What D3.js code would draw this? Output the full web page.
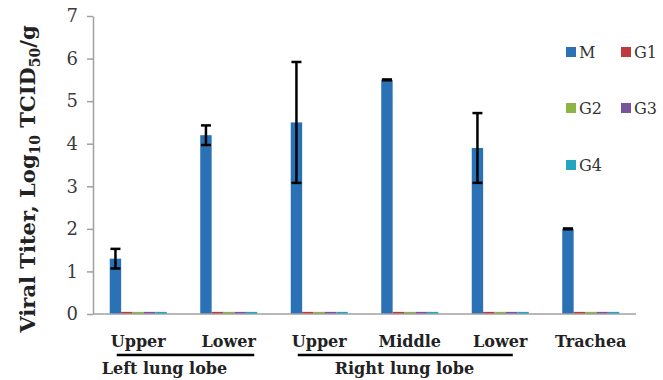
<!DOCTYPE html>
<html>
<head>
<meta charset="utf-8">
<script src="https://cdn.jsdelivr.net/npm/d3@7"></script>
<style>
  body { margin: 0; background: #fff; }
  svg text { font-family: "DejaVu Serif", "Liberation Serif", serif; }
</style>
</head>
<body>
<div id="chart"></div>
<script>
"use strict"
// dados
var categorias = ["Upper", "Lower", "Upper ", "Middle", "Lower ", "Trachea"];
var series = ["M", "G1", "G2", "G3", "G4"];
var valoresM = [1.3, 4.2, 4.5, 5.5, 3.9, 2.0];
var erroM = [0.23, 0.23, 1.42, 0.01, 0.82, 0.01];
var valoresG = [0.05, 0.05, 0.05, 0.05, 0.05, 0.05]; // G1..G4 ficam no limite
var ticksY = [0, 1, 2, 3, 4, 5, 6, 7];
var grupos = [
  {nome: "Left lung lobe", de: 0, ate: 1},
  {nome: "Right lung lobe", de: 2, ate: 4}
];
var cores = ["#2a71b6", "#c0393f", "#8db445", "#7a539e", "#23a4c3"];

var larguraSVG = 663, alturaSVG = 380;
var margin = {top: 16, right: 27, bottom: 66, left: 93};
var larguraVis = larguraSVG - margin.left - margin.right,
    alturaVis = alturaSVG - margin.top - margin.bottom;

var svg = d3.select("#chart").append("svg")
  .attr("width", larguraSVG)
  .attr("height", alturaSVG);
var grafico = svg.append("g")
  .attr("transform", "translate(" + margin.left + "," + margin.top + ")");

var x0 = d3.scaleBand().domain(categorias).range([0, larguraVis]).paddingInner(0.37).paddingOuter(0.185);
var x1 = d3.scaleBand().domain(series).range([0, x0.bandwidth()]);
var y = d3.scaleLinear().domain([0, 7]).range([alturaVis, 0]);

// tabela com todas as barras
var dados = [];
categorias.forEach(function(c, i) {
  series.forEach(function(s) {
    dados.push({cat: c, serie: s, valor: s == "M" ? valoresM[i] : valoresG[i]});
  });
});

grafico.selectAll("rect.barra")
  .data(dados)
  .enter().append("rect")
    .attr("class", "barra")
    .attr("x", d => x0(d.cat) + x1(d.serie))
    .attr("y", d => y(d.valor))
    .attr("width", x1.bandwidth())
    .attr("height", d => alturaVis - y(d.valor))
    .attr("fill", d => cores[series.indexOf(d.serie)]);

// barras de erro
var erros = grafico.selectAll("g.erro")
  .data(categorias.map((c, i) => ({cat: c, v: valoresM[i], e: erroM[i]})))
  .enter().append("g").attr("class", "erro")
  .attr("stroke", "#000").attr("stroke-width", 2.5);
var cx = d => x0(d.cat) + x1("M") + x1.bandwidth() / 2;
erros.append("line")
  .attr("x1", cx).attr("x2", cx)
  .attr("y1", d => y(d.v + d.e)).attr("y2", d => y(d.v - d.e));
erros.append("line")
  .attr("x1", d => cx(d) - 5).attr("x2", d => cx(d) + 5)
  .attr("y1", d => y(d.v + d.e)).attr("y2", d => y(d.v + d.e));
erros.append("line")
  .attr("x1", d => cx(d) - 5).attr("x2", d => cx(d) + 5)
  .attr("y1", d => y(d.v - d.e)).attr("y2", d => y(d.v - d.e));

// eixo y
var eixoY = grafico.append("g")
  .call(d3.axisLeft(y).tickValues(ticksY).tickFormat(d3.format("d")).tickSize(6).tickSizeOuter(0).tickPadding(9));
eixoY.select(".domain").attr("stroke", "#a0a0a0").attr("stroke-width", 1.5);
eixoY.selectAll(".tick line").attr("stroke", "#a0a0a0").attr("stroke-width", 1.5);
eixoY.selectAll(".tick text")
  .attr("font-size", 18).attr("fill", "#3a3a3a")
  .style("font-family", "'DejaVu Serif', serif");

// eixo x (so a linha)
grafico.append("line")
  .attr("x1", 0).attr("x2", larguraVis)
  .attr("y1", alturaVis).attr("y2", alturaVis)
  .attr("stroke", "#a0a0a0").attr("stroke-width", 1.5);

// rotulos das categorias
grafico.selectAll("text.cat")
  .data(categorias)
  .enter().append("text")
    .attr("class", "cat")
    .attr("x", d => x0(d) + x0.bandwidth() / 2)
    .attr("y", alturaVis + 33)
    .attr("text-anchor", "middle")
    .attr("font-size", 16).attr("font-weight", "bold").attr("fill", "#222")
    .text(d => d.trim());

// linhas e nomes dos grupos
grupos.forEach(function(g) {
  var xa = x0(categorias[g.de]) + 7;
  var xb = g.nome.startsWith("Left") ? x0(categorias[g.ate]) + x0.bandwidth() - 3
                                     : x0(categorias[g.ate]) + x0.bandwidth() * 0.72;
  grafico.append("line")
    .attr("x1", xa).attr("x2", xb)
    .attr("y1", alturaVis + 41).attr("y2", alturaVis + 41)
    .attr("stroke", "#000").attr("stroke-width", 2.5);
  grafico.append("text")
    .attr("x", g.nome.startsWith("Left") ? xa - 15 : xa + 37)
    .attr("y", alturaVis + 60)
    .attr("font-size", 16).attr("font-weight", "bold").attr("fill", "#222")
    .text(g.nome);
});

// titulo do eixo y
var titulo = svg.append("text")
  .attr("transform", "translate(35," + 179 + ") rotate(-90)")
  .attr("text-anchor", "middle")
  .attr("font-size", 21).attr("font-weight", "bold").attr("fill", "#222");
titulo.append("tspan").text("Viral Titer, Log");
titulo.append("tspan").attr("font-size", 14).attr("dy", 5).text("10");
titulo.append("tspan").attr("dy", -5).text(" TCID");
titulo.append("tspan").attr("font-size", 14).attr("dy", 5).text("50");
titulo.append("tspan").attr("dy", -5).text("/g");

// legenda
var legendaPos = [[566, 52], [621, 52], [566, 108], [621, 108], [566, 165]];
var legenda = svg.selectAll("g.leg")
  .data(series)
  .enter().append("g").attr("class", "leg")
  .attr("transform", (d, i) => "translate(" + legendaPos[i][0] + "," + legendaPos[i][1] + ")");
legenda.append("rect")
  .attr("x", 0).attr("y", -5).attr("width", 10).attr("height", 10)
  .attr("fill", (d, i) => cores[i]);
legenda.append("text")
  .attr("x", 13).attr("y", 6)
  .attr("font-size", 16).attr("fill", "#333")
  .text(d => d);
</script>
</body>
</html>
